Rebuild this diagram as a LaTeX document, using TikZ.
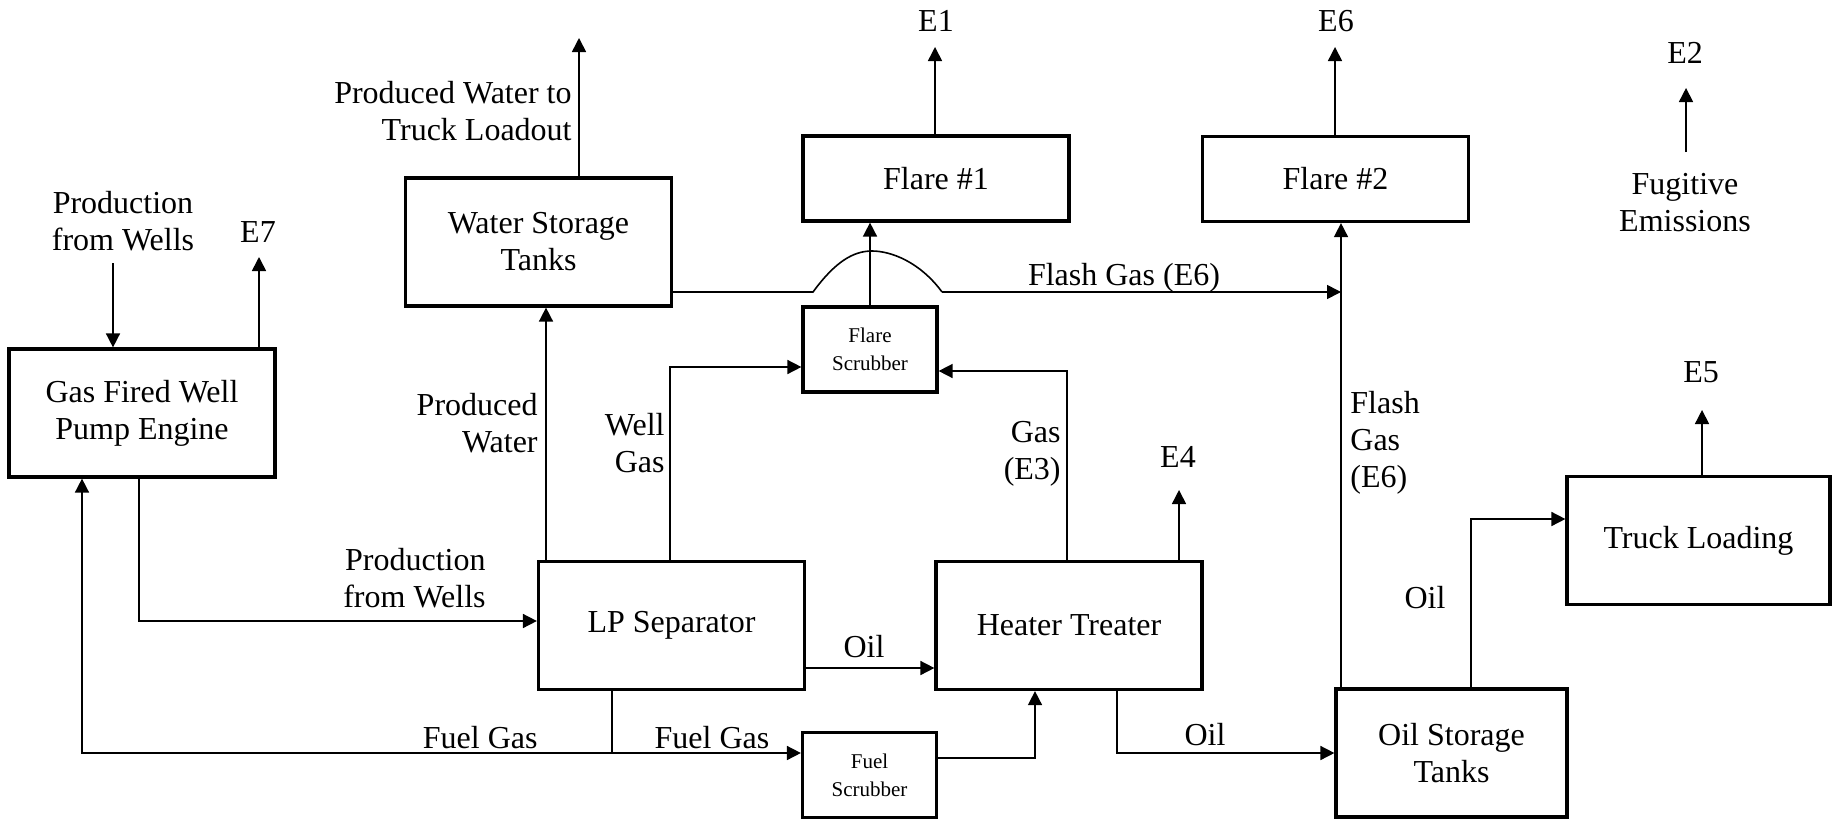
\documentclass[tikz,border=0pt]{standalone}
\usepackage{fontspec}
\setmainfont{Liberation Serif}
\newfontfamily\flowserif{Liberation Serif}
\usetikzlibrary{arrows.meta,positioning}
\newcommand{\flowfont}{\flowserif\fontsize{16}{18.5}\selectfont}
\newcommand{\smallflowfont}{\flowserif\fontsize{10.5}{14}\selectfont}
\tikzset{
  procbox/.style={
    draw=black, line width=1.6pt, align=center, inner sep=2pt,
    font=\flowfont
  },
  bigunit/.style={procbox, minimum width=133pt, minimum height=64pt},
  flareunit/.style={procbox, minimum width=133pt, minimum height=42.5pt},
  scrub/.style={procbox, font=\smallflowfont, minimum width=67pt, minimum height=42.5pt},
  pipe/.style={draw=black, line width=0.8pt},
  arr/.style={pipe, -{Triangle[length=7pt,width=7pt]}},
  lbl/.style={font=\flowfont, inner sep=0pt, align=center}
}
\begin{document}
\begin{tikzpicture}[x=0.5pt, y=-0.5pt]
  \useasboundingbox (0,0) rectangle (1839,819);
  % process units
  \node[bigunit] (pump) at (142,413) {Gas Fired Well\\Pump Engine};
  \node[bigunit] (water) at (538.5,242) {Water Storage\\Tanks};
  \node[flareunit] (flare1) at (936,178.5) {Flare \#1};
  \node[flareunit] (flare2) at (1335.5,179) {Flare \#2};
  \node[scrub] (flscrub) at (870,349.5) {Flare\\Scrubber};
  \node[bigunit] (lpsep) at (671.5,625.5) {LP Separator};
  \node[bigunit] (heater) at (1069,625.5) {Heater Treater};
  \node[scrub] (fuscrub) at (869.5,775) {Fuel\\Scrubber};
  \node[bigunit, minimum width=115.5pt] (oiltank) at (1451.5,753) {Oil Storage\\Tanks};
  \node[bigunit, minimum width=131.5pt] (truck) at (1698.5,540.5) {Truck Loading};

  % free ends and risers
  \coordinate (prodin) at (113,263);
  \coordinate (e7tip) at (259,257);
  \coordinate (pwtip) at (579,38);
  \coordinate (e1tip) at (935,47);
  \coordinate (e6tip) at (1335,47);
  \coordinate (e2base) at (1686,152);
  \coordinate (e2tip) at (1686,88);
  \coordinate (e5tip) at (1702,410);
  \coordinate (e4tip) at (1179,490);
  \coordinate (pwcol) at (546,0);
  \coordinate (fgj) at (612,753);
  \coordinate (fgcol) at (82,0);
  \coordinate (fvcol) at (1341,292);
  \coordinate (bumpl) at (813,292);
  \coordinate (bumpt) at (872,251);
  \coordinate (bumpr) at (942,292);

  % emissions
  \draw[arr] (prodin) -- (prodin |- pump.north);
  \draw[arr] (e7tip |- pump.north) -- (e7tip);
  \draw[arr] (pwtip |- water.north) -- (pwtip);
  \draw[arr] (e1tip |- flare1.north) -- (e1tip);
  \draw[arr] (e6tip |- flare2.north) -- (e6tip);
  \draw[arr] (e2base) -- (e2tip);
  \draw[arr] (e5tip |- truck.north) -- (e5tip);
  \draw[arr] (e4tip |- heater.north) -- (e4tip);

  % production, water, gas
  \draw[arr] ([xshift=-1.5pt]pump.south) |- ([yshift=2.25pt]lpsep.west);
  \draw[arr] (lpsep.north -| pwcol) -- (water.south -| pwcol);
  \draw[arr] ([xshift=-0.75pt]lpsep.north) |- ([yshift=-8.75pt]flscrub.west);
  \draw[arr] ([xshift=-1pt]heater.north) |- ([yshift=-10.75pt]flscrub.east);
  \draw[arr] (flscrub.north) -- (flscrub.north |- flare1.south);

  % flash gas header, hops over the scrubber line
  \draw[pipe] (water.east |- bumpl) -- (bumpl)
    .. controls (835,262) and (853,251) .. (bumpt)
    .. controls (891,251) and (920,262) .. (bumpr);
  \draw[arr] (bumpr) -- (fvcol);
  \draw[arr] (oiltank.north -| fvcol) -- (flare2.south -| fvcol);

  % oil
  \draw[arr] ([yshift=-21.25pt]lpsep.east) -- ([yshift=-21.25pt]heater.west);
  \draw[arr] ([xshift=24pt]heater.south) |- (oiltank.west);
  \draw[arr] ([xshift=9.75pt]oiltank.north) |- ([yshift=10.75pt]truck.west);

  % fuel gas
  \draw[pipe] (lpsep.south -| fgj) -- (fgj);
  \draw[arr] (fgj) -| (pump.south -| fgcol);
  \draw[arr] (fgj) -- (fgj -| fuscrub.west);
  \draw[arr] ([yshift=8.5pt]fuscrub.east) -| ([xshift=-17pt]heater.south);

  % labels
  \node[lbl, anchor=north] (prodtoplbl) at (123,191) {Production\\from Wells};
  \node[lbl, anchor=base] (e7lbl) at (258,242) {E7};
  \node[lbl, anchor=north east, align=right] (pwtrucklbl) at (572,81)
    {Produced Water to\\Truck Loadout};
  \node[lbl, anchor=base] (e1lbl) at (936,32) {E1};
  \node[lbl, anchor=base] (e6lbl) at (1336,32) {E6};
  \node[lbl, anchor=base] (e2lbl) at (1685,63) {E2};
  \node[lbl, anchor=north] (fuglbl) at (1685,173) {Fugitive\\Emissions};
  \node[lbl, anchor=base] (e5lbl) at (1701,382) {E5};
  \node[lbl, anchor=base] (e4lbl) at (1178,467) {E4};
  \node[lbl, anchor=base] (flashlbl) at (1124,285) {Flash Gas (E6)};
  \node[lbl, anchor=north east, align=right] (pwlbl) at (538,393) {Produced\\Water};
  \node[lbl, anchor=north east, align=right] (wglbl) at (665,413) {Well\\Gas};
  \node[lbl, anchor=north east, align=right] (gaslbl) at (1061,421) {Gas\\(E3)};
  \node[lbl, anchor=north east, align=right] (prodlbl) at (486,548)
    {Production\\from Wells};
  \node[lbl, anchor=base east] (fuel1lbl) at (538,748) {Fuel Gas};
  \node[lbl, anchor=base] (fuel2lbl) at (712,748) {Fuel Gas};
  \node[lbl, anchor=base] (oil1lbl) at (864,657) {Oil};
  \node[lbl, anchor=base] (oil2lbl) at (1205,745) {Oil};
  \node[lbl, anchor=base] (oil3lbl) at (1425,608) {Oil};
  \node[lbl, anchor=north west, align=left] (flashvlbl) at (1350,391)
    {Flash\\Gas\\(E6)};
\end{tikzpicture}
\end{document}
